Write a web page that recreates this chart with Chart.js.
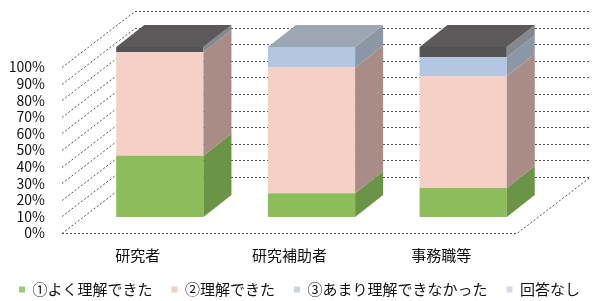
<!DOCTYPE html>
<html lang="ja">
<head>
<meta charset="utf-8">
<script src="https://cdn.jsdelivr.net/npm/chart.js@4.4.1/dist/chart.umd.min.js"></script>
<style>
  html, body { margin: 0; padding: 0; background: #fff; }
  canvas { display: block; }
</style>
</head>
<body>
<canvas id="chart" width="601" height="301"></canvas>
<script>
// data (percent of respondents)
const categories = ['研究者', '研究補助者', '事務職等'];
const seriesNames = ['①よく理解できた', '②理解できた', '③あまり理解できなかった', '回答なし'];
const wellUnderstood = [36, 14, 17];
const understood = [61, 74, 66];
const notReally = [0, 12, 11];
const noAnswer = [3, 0, 6];
const yTicks = [0, 10, 20, 30, 40, 50, 60, 70, 80, 90, 100];

// colours: front face, right side face, top face, legend marker
const frontColors = ['#8cbc5c', '#f5d0c6', '#b3c7e3', '#545252'];
const sideColors = ['#6c9446', '#a88c85', '#8c97a5', '#85888d'];
const topColors = ['#9ccc6c', '#f0d8d0', '#9ca7b3', '#5b5959'];
const legendColors = ['#9cc97a', '#f6cdc6', '#c9d3e6', '#d5d9e4'];

// fake 3D geometry
const WALL_DX = 73, WALL_DY = -56;    // depth of the floor / side wall
const BAR_DX = 22, BAR_DY = -16;      // bars sit inside the box
const BAR_SCALE = 1.024;
const DEPTH_DX = 28, DEPTH_DY = -22;  // depth of each bar

Chart.defaults.font.family = "'Noto Sans CJK JP', 'Noto Sans', sans-serif";
Chart.defaults.color = '#111';

function poly(ctx, color, pts) {
  ctx.beginPath();
  ctx.moveTo(pts[0][0], pts[0][1]);
  for (let i = 1; i < pts.length; i++) ctx.lineTo(pts[i][0], pts[i][1]);
  ctx.closePath();
  ctx.fillStyle = color;
  ctx.fill();
}

const threeD = {
  id: 'threeD',
  beforeDatasetsDraw(chart) {
    const { ctx, chartArea: a, scales: { y } } = chart;
    // side wall, back wall and floor grid
    ctx.save();
    ctx.strokeStyle = 'rgba(50,50,50,0.85)';
    ctx.lineWidth = 1;
    ctx.setLineDash([2, 2]);
    yTicks.forEach(v => {
      const py = Math.round(y.getPixelForValue(v)) + 0.5;
      ctx.beginPath();
      ctx.moveTo(a.left, py);
      ctx.lineTo(a.left + WALL_DX, py + WALL_DY);
      ctx.lineTo(a.right + WALL_DX, py + WALL_DY);
      ctx.stroke();
    });
    const fy = Math.round(a.bottom) + 0.5;
    ctx.beginPath();
    ctx.moveTo(a.left, fy);
    ctx.lineTo(a.right, fy);
    ctx.lineTo(a.right + WALL_DX, fy + WALL_DY);
    ctx.stroke();
    ctx.restore();

    // move the front faces back into the box
    ctx.save();
    ctx.translate(BAR_DX, a.bottom + BAR_DY);
    ctx.scale(1, BAR_SCALE);
    ctx.translate(0, -a.bottom);
  },
  afterDatasetsDraw(chart) {
    const { ctx, chartArea: a } = chart;
    ctx.restore();
    const mapY = py => a.bottom + BAR_DY - (a.bottom - py) * BAR_SCALE;

    // topmost non-empty segment of each bar gets the lid
    const topOf = chart.data.labels.map((_, i) => {
      let top = -1;
      chart.data.datasets.forEach((ds, di) => { if (ds.data[i] > 0) top = di; });
      return top;
    });

    chart.data.datasets.forEach((ds, di) => {
      chart.getDatasetMeta(di).data.forEach((bar, i) => {
        const { x, y, base, width } = bar.getProps(['x', 'y', 'base', 'width'], true);
        const l = x - width / 2 + BAR_DX, r = x + width / 2 + BAR_DX;
        const t = mapY(y), b = mapY(base);
        if (b - t < 0.5) return;
        poly(ctx, sideColors[di], [[r, t], [r + DEPTH_DX, t + DEPTH_DY], [r + DEPTH_DX, b + DEPTH_DY], [r, b]]);
        if (topOf[i] === di) {
          poly(ctx, topColors[di], [[l, t], [l + DEPTH_DX, t + DEPTH_DY], [r + DEPTH_DX, t + DEPTH_DY], [r, t]]);
        }
      });
    });
  }
};

const seriesData = [wellUnderstood, understood, notReally, noAnswer];

new Chart(document.getElementById('chart'), {
  type: 'bar',
  data: {
    labels: categories,
    datasets: seriesNames.map((name, i) => ({
      label: name,
      data: seriesData[i],
      backgroundColor: frontColors[i],
      borderWidth: 0,
      barPercentage: 0.575,
      categoryPercentage: 1
    }))
  },
  options: {
    responsive: false,
    animation: false,
    devicePixelRatio: 1,
    layout: { padding: { top: 67, bottom: -6, left: 0, right: 0 } },
    scales: {
      x: {
        stacked: true,
        grid: { display: false, drawTicks: false },
        border: { display: false },
        ticks: { font: { size: 15 }, padding: 13 },
        afterFit(s) { s.height = 30; }
      },
      y: {
        stacked: true,
        min: 0,
        max: 100,
        grid: { display: false, drawTicks: false },
        border: { display: false },
        ticks: { stepSize: 10, autoSkip: false, padding: 17, font: { size: 14 }, callback: v => v + '%' },
        afterFit(s) { s.width = 62; }
      },
      y2: {
        position: 'right',
        grid: { display: false, drawTicks: false },
        border: { display: false },
        ticks: { display: false },
        afterFit(s) { s.width = 84; }
      }
    },
    plugins: {
      tooltip: { enabled: false },
      legend: {
        position: 'bottom',
        align: 'start',
        labels: {
          boxWidth: 6,
          boxHeight: 6,
          padding: 19,
          font: { size: 15 },
          generateLabels(chart) {
            return Chart.defaults.plugins.legend.labels.generateLabels(chart).map((item, i) => {
              item.fillStyle = legendColors[i];
              item.strokeStyle = legendColors[i];
              item.lineWidth = 0;
              return item;
            });
          }
        }
      }
    }
  },
  plugins: [threeD]
});
</script>
</body>
</html>
